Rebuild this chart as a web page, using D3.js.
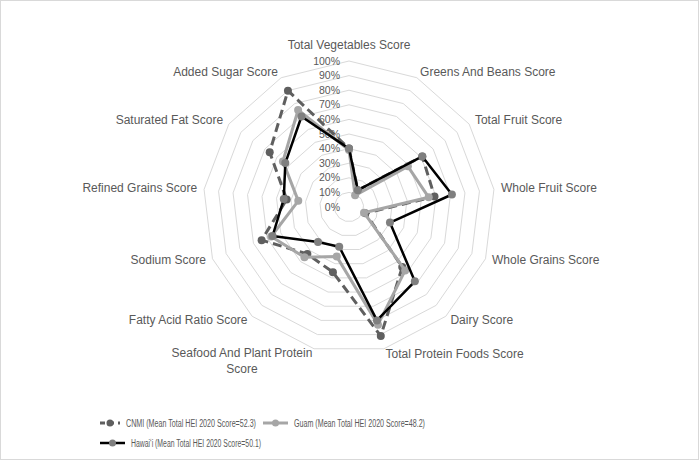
<!DOCTYPE html>
<html>
<head>
<meta charset="utf-8">
<script src="https://cdn.jsdelivr.net/npm/d3@7"></script>
<style>
  body { margin: 0; background: #fff; }
  svg { display: block; font-family: "Liberation Sans", Arial, sans-serif; }
</style>
</head>
<body>
<svg id="chart" width="700" height="461"></svg>
<script>
const categories = [
  "Total Vegetables Score", "Greens And Beans Score", "Total Fruit Score",
  "Whole Fruit Score", "Whole Grains Score", "Dairy Score",
  "Total Protein Foods Score", "Seafood And Plant Protein Score",
  "Fatty Acid Ratio Score", "Sodium Score", "Refined Grains Score",
  "Saturated Fat Score", "Added Sugar Score"
];
const cnmi   = [40, 13, 61, 59, 12, 55, 91, 46, 43, 64, 43, 66, 90];
const guam   = [39,  9, 49, 55, 11, 58, 83, 35, 46, 57, 35, 55, 75];
const hawaii = [40, 13, 61, 71, 30, 68, 80, 28, 32, 56, 45, 53, 70];
const tickValues = [0, 10, 20, 30, 40, 50, 60, 70, 80, 90, 100];
const seriesNames = [
  "CNMI (Mean Total HEI 2020 Score=52.3)",
  "Guam (Mean Total HEI 2020 Score=48.2)",
  "Hawai\u02BBi (Mean Total HEI 2020 Score=50.1)"
];

const svg = d3.select("#chart");
const cx = 349, cy = 207, R = 146;

// frame
svg.append("rect").attr("x", 0.5).attr("y", 0.5).attr("width", 698).attr("height", 459)
  .attr("fill", "#fff").attr("stroke", "#d9d9d9");

const angle = d3.scaleLinear().domain([0, categories.length]).range([0, 2 * Math.PI]);
const r = d3.scaleLinear().domain([0, 100]).range([0, R]);

const pt = (i, v) => [cx + r(v) * Math.sin(angle(i)), cy - r(v) * Math.cos(angle(i))];

// grid rings
const g = svg.append("g");
tickValues.filter(t => t > 0).forEach(t => {
  g.append("path")
    .attr("d", d3.line()(categories.map((c, i) => pt(i, t))) + "Z")
    .attr("fill", "none").attr("stroke", "#d9d9d9").attr("stroke-width", 1);
});

// tick labels
g.selectAll(".tick").data(tickValues).join("text")
  .attr("x", cx - 9).attr("y", t => cy - r(t))
  .attr("dy", "0.35em")
  .attr("text-anchor", "end")
  .attr("font-size", 10.5).attr("fill", "#595959")
  .text(t => t + "%");

// category labels
categories.forEach((c, i) => {
  const s = Math.sin(angle(i)), co = Math.cos(angle(i));
  const [vx, vy] = pt(i, 100);
  const t = g.append("text").attr("font-size", 12).attr("fill", "#595959");
  if (Math.abs(s) < 0.1) {
    t.attr("x", vx).attr("y", vy - 12).attr("text-anchor", "middle").text(c);
  } else if (c === "Seafood And Plant Protein Score") {
    // wrapped label, centered within its block
    const lines = ["Seafood And Plant Protein", "Score"];
    const tmp = g.append("text").attr("font-size", 12).text(lines[0]);
    const w = tmp.node().getComputedTextLength();
    tmp.remove();
    const right = vx + 7 * s;
    t.attr("text-anchor", "middle");
    lines.forEach((l, k) => {
      t.append("tspan").attr("x", right - w / 2).attr("y", vy - 6 * co - 2 + k * 16)
        .attr("dy", "0.35em").text(l);
    });
  } else {
    t.attr("x", vx + 7 * s).attr("y", vy - 6 * co - 1)
      .attr("dy", "0.35em")
      .attr("text-anchor", s > 0 ? "start" : "end").text(c);
  }
});

// series
const series = [
  { values: cnmi,   stroke: "#5f5f5f", width: 3,   dash: "9,5", marker: "#5f5f5f" },
  { values: guam,   stroke: "#a6a6a6", width: 3,   dash: null,  marker: "#a6a6a6" },
  { values: hawaii, stroke: "#000000", width: 2.5, dash: null,  marker: "#7f7f7f" }
];

series.forEach(s => {
  const pts = s.values.map((v, i) => pt(i, v));
  g.append("path")
    .attr("d", d3.line()(pts) + "Z")
    .attr("fill", "none").attr("stroke", s.stroke).attr("stroke-width", s.width)
    .attr("stroke-linejoin", "round")
    .attr("stroke-dasharray", s.dash);
  g.selectAll(null).data(pts).join("circle")
    .attr("cx", d => d[0]).attr("cy", d => d[1]).attr("r", 4)
    .attr("fill", s.marker);
});

// legend
const legendPos = [[100, 423], [263, 423], [100, 443]];
series.forEach((s, k) => {
  const [lx, ly] = legendPos[k];
  const lg = svg.append("g").attr("transform", `translate(${lx},${ly})`);
  const len = k === 0 ? 20 : 25;
  lg.append("line").attr("x1", 0).attr("x2", len).attr("y1", 0).attr("y2", 0)
    .attr("stroke", s.stroke).attr("stroke-width", s.width)
    .attr("stroke-dasharray", s.dash ? "5,4" : null);
  lg.append("circle").attr("cx", len / 2).attr("cy", 0).attr("r", 3.5).attr("fill", s.marker);
  lg.append("text").attr("x", len + 6).attr("y", 0).attr("dy", "0.35em")
    .attr("font-size", 10).attr("fill", "#595959")
    .attr("textLength", k === 1 ? 131 : 130).attr("lengthAdjust", "spacingAndGlyphs")
    .text(seriesNames[k]);
});
</script>
</body>
</html>
